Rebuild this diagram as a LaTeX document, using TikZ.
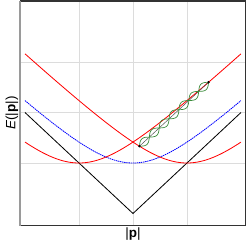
\documentclass[tikz,border=0pt]{standalone}
\usepackage{fontspec}
\setmainfont{Liberation Sans}
\definecolor{FrameGray}{HTML}{333333}
\definecolor{AxisGray}{HTML}{9A9A9A}
\definecolor{GridGray}{HTML}{DCDCDC}
\definecolor{PhotonGreen}{HTML}{3A8C3A}

\begin{document}
\begin{tikzpicture}[x=1.62cm,y=1.515cm]
\tikzstyle{gridln}=[GridGray,line width=.6pt]
\tikzstyle{band}=[line width=.7pt,samples=120,domain=-2:2]
\tikzstyle{wave}=[PhotonGreen,line width=.6pt,samples=160,domain=0:2.8253,variable=\t]
\tikzstyle{lab}=[font=\fontsize{11.5}{13}\selectfont,inner sep=0pt]
\useasboundingbox (-2.463,-1.564) rectangle (2.130,3.228);
% grid
\foreach \gx in {-1,0,1} \draw[gridln] (\gx,-1.238) -- (\gx,3.208);
\foreach \gy in {0,1,2} \draw[gridln] (-2.093,\gy) -- (2.083,\gy);
% bands
\draw[band,black] (-2,1) -- (0,-1) -- (2,1);
\draw[band,blue,dash pattern=on 1.2pt off .6pt] plot (\x,{sqrt(1+\x*\x)-1});
\draw[band,red] plot (\x,{sqrt(1+(\x-1)^2)-1});
\draw[band,red] plot (\x,{sqrt(1+(\x+1)^2)-1});
% photon
\coordinate (lo) at (0.12,{sqrt(1+0.88^2)-1});
\coordinate (hi) at (1.4,{sqrt(1+2.4^2)-1});
\draw[gray!60!black,line width=.4pt] (lo) -- (hi);
\begin{scope}[shift={(lo)},rotate=42.78,x=1cm,y=1cm]
\draw[wave] plot (\t,{0.113*sin(1260*\t/2.8253)});
\draw[wave] plot (\t,{-0.113*sin(1260*\t/2.8253)});
\end{scope}
\fill (lo) circle (1.1pt);
\fill (hi) circle (1.1pt);
% frame
\draw[FrameGray,line width=1.2pt] (-2.093,-1.238) -- (2.083,-1.238) -- (2.083,3.208) -- (-2.093,3.208);
\draw[AxisGray,line width=1.7pt] (-2.093,-1.238) -- (-2.093,3.208);
% labels
\node[lab,rotate=90] (elab) at (-2.24,0.99) {\textit{E}(|\textbf{p}|)};
\node[lab] (plab) at (0,-1.41) {|\textbf{p}|};
\end{tikzpicture}
\end{document}
